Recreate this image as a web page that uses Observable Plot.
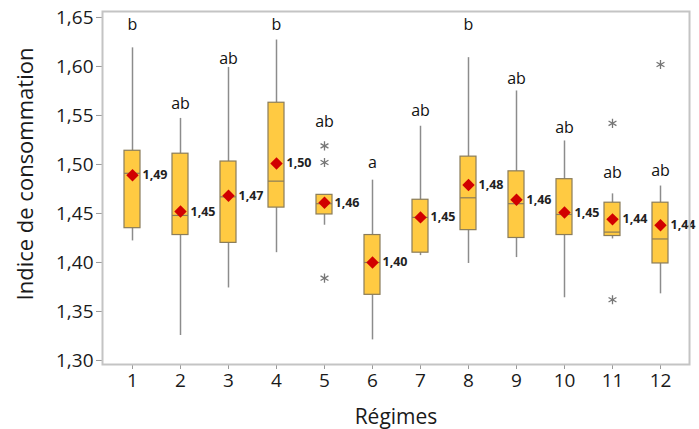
<!DOCTYPE html>
<html>
<head>
<meta charset="utf-8">
<script src="https://cdn.jsdelivr.net/npm/d3@7"></script>
<script src="https://cdn.jsdelivr.net/npm/@observablehq/plot@0.6"></script>
<style>
  html, body { margin: 0; padding: 0; background: #fff; }
</style>
</head>
<body>
<div id="chart"></div>
<script>
const regimes     = [1, 2, 3, 4, 5, 6, 7, 8, 9, 10, 11, 12];
const whiskerLow  = [1.422, 1.3255, 1.374, 1.410, 1.438, 1.321, 1.407, 1.399, 1.405, 1.364, 1.424, 1.368];
const q1          = [1.435, 1.428, 1.420, 1.456, 1.449, 1.367, 1.410, 1.433, 1.425, 1.428, 1.427, 1.399];
const medians     = [1.491, 1.448, 1.467, 1.483, 1.460, 1.400, 1.446, 1.466, 1.460, 1.449, 1.431, 1.424];
const q3          = [1.514, 1.511, 1.503, 1.563, 1.469, 1.428, 1.464, 1.508, 1.493, 1.485, 1.461, 1.461];
const whiskerHigh = [1.619, 1.547, 1.599, 1.627, 1.469, 1.484, 1.539, 1.609, 1.575, 1.524, 1.470, 1.478];
const means       = [1.489, 1.452, 1.468, 1.501, 1.461, 1.400, 1.446, 1.479, 1.464, 1.451, 1.444, 1.438];
const groupLetters = ["b", "ab", "ab", "b", "ab", "a", "ab", "b", "ab", "ab", "ab", "ab"];
const letterLevel  = [1.642, 1.562, 1.608, 1.642, 1.543, 1.502, 1.555, 1.642, 1.587, 1.537, 1.491, 1.493];
const outlierRegime = [5, 5, 5, 11, 11, 12];
const outlierValue  = [1.519, 1.502, 1.384, 1.542, 1.362, 1.602];
const yTicks = [1.30, 1.35, 1.40, 1.45, 1.50, 1.55, 1.60, 1.65];

const fmt = v => v.toFixed(2).replace(".", ",");

const data = regimes.map((r, i) => ({
  regime: r, lo: whiskerLow[i], q1: q1[i], median: medians[i], q3: q3[i],
  hi: whiskerHigh[i], mean: means[i], letter: groupLetters[i], letterY: letterLevel[i]
}));
const outliers = outlierRegime.map((r, i) => ({regime: r, value: outlierValue[i]}));

const chart = Plot.plot({
  width: 699,
  height: 429,
  marginLeft: 102,
  marginRight: 10,
  marginTop: 11,
  marginBottom: 65,
  style: {fontFamily: "'Open Sans', 'Noto Sans', sans-serif", background: "white", color: "#222"},
  x: {type: "band", domain: regimes, paddingInner: 0.67, paddingOuter: 0.335, label: null},
  y: {domain: [1.2959, 1.6561], label: null},
  marks: [
    Plot.ruleX(data, {x: "regime", y1: "lo", y2: "q1", stroke: "#8c8c8c", strokeWidth: 1.5}),
    Plot.ruleX(data, {x: "regime", y1: "q3", y2: "hi", stroke: "#8c8c8c", strokeWidth: 1.5}),
    Plot.barY(data, {x: "regime", y1: "q1", y2: "q3", fill: "#ffca42", stroke: "#8a7c5a", strokeWidth: 1.2}),
    Plot.tickY(data, {x: "regime", y: "median", stroke: "#8a7c5a", strokeWidth: 1.2}),
    Plot.dot(outliers, {x: "regime", y: "value", symbol: "asterisk", r: 4.3, stroke: "#777", strokeWidth: 1.3}),
    Plot.dot(data, {x: "regime", y: "mean", symbol: "diamond2", r: 5.6, fill: "#d10000", stroke: "none"}),
    Plot.text(data, {x: "regime", y: "mean", text: d => fmt(d.mean), textAnchor: "start", dx: 10, fontWeight: "bold", fontSize: 12.5, fill: "#222"}),
    Plot.text(data, {x: "regime", y: "letterY", text: "letter", fontSize: 16, fill: "#111"}),
    Plot.axisY({ticks: yTicks, tickFormat: fmt, tickSize: 6, tickPadding: 3, fontSize: 19, stroke: "#9a9a9a", fill: "#1a1a1a", label: null}),
    Plot.axisX({tickSize: 5, tickPadding: 4, fontSize: 19, stroke: "#9a9a9a", fill: "#1a1a1a", label: null}),
    Plot.frame({stroke: "#c4c4c4", strokeWidth: 2}),
    Plot.text(["Indice de consommation"], {text: d => d, frameAnchor: "left", textAnchor: "middle", lineAnchor: "middle", rotate: -90, dx: -77, dy: -14, fontSize: 22, fill: "#1a1a1a"}),
    Plot.text(["Régimes"], {text: d => d, frameAnchor: "bottom", textAnchor: "middle", lineAnchor: "middle", dy: 53, fontSize: 21, fill: "#1a1a1a"})
  ]
});
document.getElementById("chart").appendChild(chart);
</script>
</body>
</html>
